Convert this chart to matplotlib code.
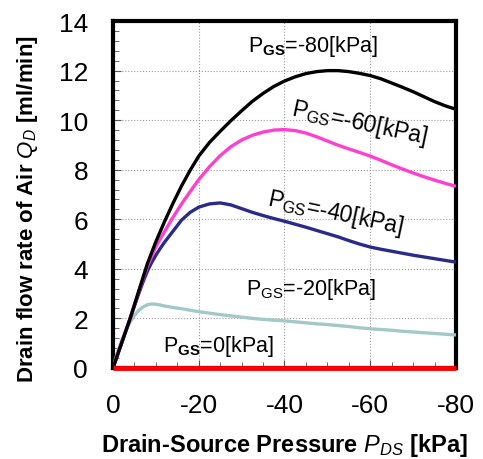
import matplotlib
matplotlib.use("Agg")
import matplotlib.pyplot as plt
from matplotlib.ticker import MultipleLocator

plt.rcParams['font.family'] = ['Liberation Sans', 'DejaVu Sans']
plt.rcParams['mathtext.fontset'] = 'custom'
plt.rcParams['mathtext.rm'] = 'Liberation Sans'
plt.rcParams['mathtext.it'] = 'Liberation Sans:italic'
plt.rcParams['mathtext.bf'] = 'Liberation Sans:bold'

# Data
p_ds = [0, -1, -2, -3, -4, -5, -6, -7, -8, -9, -10, -11, -12, -14, -16, -18, -20,
        -22.5, -25, -27.5, -30, -32.5, -35, -37.5, -40, -42.5, -45, -47.5, -50,
        -52.5, -55, -57.5, -60, -62.5, -65, -67.5, -70, -72.5, -75, -77.5, -80]
q_m80 = [0, 0.5, 1.0, 1.5, 2.0, 2.55, 3.1, 3.65, 4.2, 4.65, 5.1, 5.5, 5.9, 6.65,
         7.35, 7.98, 8.55, 9.1, 9.55, 9.98, 10.38, 10.76, 11.08, 11.36, 11.58, 11.75,
         11.88, 11.96, 12.0, 12.0, 11.96, 11.89, 11.8, 11.67, 11.5, 11.33, 11.15,
         10.95, 10.75, 10.58, 10.44]
q_m60 = [0, 0.5, 1.0, 1.5, 2.0, 2.55, 3.08, 3.6, 4.1, 4.5, 4.88, 5.2, 5.5, 6.08,
         6.62, 7.12, 7.6, 8.12, 8.57, 8.93, 9.2, 9.39, 9.52, 9.6, 9.62, 9.58, 9.48,
         9.33, 9.16, 8.99, 8.84, 8.7, 8.55, 8.38, 8.2, 8.03, 7.87, 7.72, 7.58,
         7.45, 7.33]
q_m40 = [0, 0.5, 1.0, 1.5, 2.0, 2.5, 3.0, 3.47, 3.9, 4.25, 4.55, 4.82, 5.07, 5.52,
         5.97, 6.28, 6.49, 6.62, 6.66, 6.58, 6.43, 6.28, 6.15, 6.03, 5.92, 5.8, 5.68,
         5.55, 5.42, 5.29, 5.14, 5.0, 4.88, 4.79, 4.71, 4.63, 4.55, 4.48, 4.41,
         4.34, 4.27]
q_m20 = [0, 0.6, 1.1, 1.5, 1.85, 2.12, 2.32, 2.46, 2.55, 2.58, 2.57, 2.54, 2.5,
         2.44, 2.39, 2.33, 2.27, 2.21, 2.15, 2.1, 2.05, 2.0, 1.96, 1.93, 1.9, 1.86,
         1.82, 1.78, 1.75, 1.71, 1.67, 1.62, 1.58, 1.55, 1.52, 1.48, 1.45, 1.42,
         1.39, 1.36, 1.33]
q_0 = [0] * len(p_ds)

x_ticks = [0, -20, -40, -60, -80]
x_tick_labels = ['0', '-20', '-40', '-60', '-80']
y_ticks = [0, 2, 4, 6, 8, 10, 12, 14]

fig = plt.figure(figsize=(4.83, 4.60), dpi=100)
ax = fig.add_axes([0.234, 0.198, 0.710, 0.754])

ax.plot(p_ds, q_m20, color='#a3c8c8', lw=2.4, solid_capstyle='butt', zorder=3)
ax.plot(p_ds, q_m40, color='#2a2a88', lw=2.4, solid_capstyle='butt', zorder=4)
ax.plot(p_ds, q_m60, color='#ff3fd0', lw=2.4, solid_capstyle='butt', zorder=5)
ax.plot(p_ds, q_m80, color='black', lw=2.4, solid_capstyle='butt', zorder=6)
ax.plot(p_ds, q_0, color='#ff0000', lw=3.5, solid_capstyle='butt', zorder=7, clip_on=False)

ax.set_xlim(0, -80)
ax.set_ylim(0, 14)
ax.set_xticks(x_ticks)
ax.set_xticklabels(x_tick_labels)
ax.set_yticks(y_ticks)
ax.xaxis.set_minor_locator(MultipleLocator(5))
ax.yaxis.set_minor_locator(MultipleLocator(0.4))
ax.tick_params(which='both', direction='in', top=False, right=False,
               labelsize=19, color='#555555')
ax.tick_params(axis='y', which='major', length=6, width=0.8, pad=18)
ax.tick_params(axis='x', which='major', length=6, width=0.8, pad=18)
ax.tick_params(which='minor', length=4, width=0.6)
ax.grid(True, which='major', color='#999999', ls=':', lw=0.8)
for s in ax.spines.values():
    s.set_linewidth(3)
    s.set_color('black')

ax.set_xlabel(r'Drain-Source Pressure $\mathbf{\mathit{P}}_{\mathbf{\mathit{DS}}}$ [kPa]',
              fontsize=17, fontweight='bold', labelpad=10)
ax.set_ylabel(r'Drain flow rate of Air $\mathbf{\mathit{Q}}_{\mathbf{\mathit{D}}}$ [ml/min]',
              fontsize=16, fontweight='bold')
ax.yaxis.set_label_coords(-0.213, 0.46)

fs = 15.5
ax.text(-31.5, 13.0, r'P$_{\mathbf{GS}}$=-80[kPa]', fontsize=fs, va='center', ha='left')
ax.text(-41.7, 10.5, r'P$_{\mathrm{GS}}$=-60[kPa]', fontsize=16.5, va='center', ha='left',
        rotation=-12, rotation_mode='anchor')
ax.text(-36.0, 6.85, r'P$_{\mathrm{GS}}$=-40[kPa]', fontsize=16.5, va='center', ha='left',
        rotation=-12, rotation_mode='anchor')
ax.text(-31.0, 3.2, r'P$_{\mathrm{GS}}$=-20[kPa]', fontsize=fs, va='center', ha='left')
ax.text(-11.7, 0.9, r'P$_{\mathbf{GS}}$=0[kPa]', fontsize=fs, va='center', ha='left')

fig.savefig('out.png', dpi=100)
